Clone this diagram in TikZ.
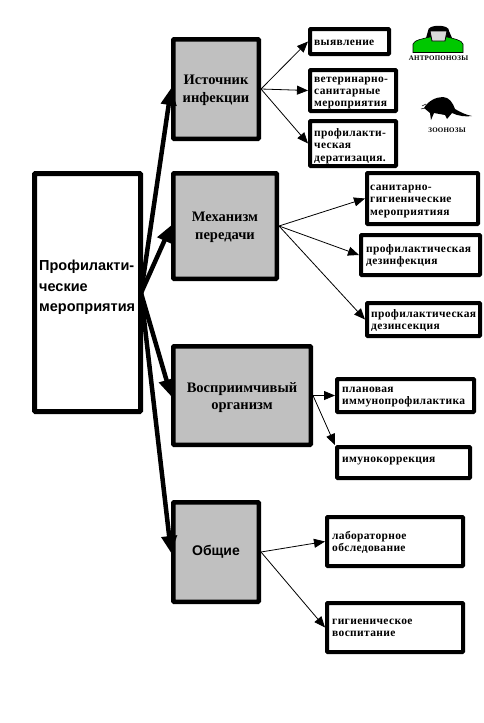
\documentclass[tikz,border=0pt]{standalone}
\usepackage{fontspec}
\setmainfont{Liberation Serif}
\newfontfamily\sansb{Liberation Sans}
\newfontfamily\spaced{Liberation Serif}[LetterSpace=3]
\usetikzlibrary{arrows.meta}
\definecolor{boxgrey}{RGB}{192,192,192}
\definecolor{shirt}{RGB}{0,200,0}
\tikzset{
 box/.style={draw=black,line width=#1,rounded corners=0.8pt,inner sep=0pt,anchor=north west},
 mainbx/.style={box=5pt,fill=white},
 greybx/.style={box=4.5pt,fill=boxgrey},
 smallbx/.style={box=4pt,fill=white},
 lbl/.style={font=\fontsize{14.5}{17.5}\selectfont\bfseries,align=center,inner sep=0pt},
 slbl/.style={font=\spaced\fontsize{11.5}{12.3}\selectfont\bfseries,align=left,inner sep=0pt,anchor=north west},
 thickarr/.style={line width=4.5pt,-{Triangle[length=17pt,width=15pt]},shorten >=-1pt},
 thinarr/.style={line width=0.8pt,-{Triangle[length=11pt,width=9pt]}},
 capt/.style={font=\spaced\fontsize{7}{8}\selectfont\bfseries,inner sep=0pt}
}
\begin{document}
\begin{tikzpicture}[x=1pt,y=-1pt]
\useasboundingbox (0,0) rectangle (483,723);
% main and grey boxes
\node[mainbx,minimum width=106pt,minimum height=238pt] (mainbox) at (32,171) {};
\node[greybx,minimum width=85.5pt,minimum height=99.5pt] (ist) at (171,37) {};
\node[greybx,minimum width=103.5pt,minimum height=105.5pt] (mech) at (171,171) {};
\node[greybx,minimum width=137.5pt,minimum height=98.5pt] (vos) at (171,344) {};
\node[greybx,minimum width=85.5pt,minimum height=99.5pt] (obs) at (171,500) {};
% small boxes
\node[smallbx,minimum width=79pt,minimum height=25pt] (vyv) at (308,27) {};
\node[smallbx,minimum width=86pt,minimum height=41pt] (vet) at (308,68) {};
\node[smallbx,minimum width=86pt,minimum height=45pt] (der) at (308,119) {};
\node[smallbx,minimum width=111pt,minimum height=51pt] (san) at (365,171) {};
\node[smallbx,minimum width=119pt,minimum height=40pt] (dezf) at (359,233) {};
\node[smallbx,minimum width=113pt,minimum height=33pt] (dezs) at (365,301) {};
\node[smallbx,minimum width=137pt,minimum height=33pt] (plan) at (335,377) {};
\node[smallbx,minimum width=133pt,minimum height=31pt] (imm) at (335,445) {};
\node[smallbx,minimum width=136pt,minimum height=49pt] (lab) at (325,515) {};
\node[smallbx,minimum width=136pt,minimum height=49pt] (gig) at (325,601) {};
% connectors
\coordinate (hub) at (141,293);
\draw[thickarr] (hub) -- (ist.west);
\draw[thickarr] (hub) -- (mech.west);
\draw[thickarr] (hub) -- (vos.west);
\draw[thickarr] (hub) -- (obs.west);
\draw[thinarr] (ist.east) -- (vyv.west);
\draw[thinarr] (ist.east) -- (vet.west);
\draw[thinarr] (ist.east) -- (der.west);
\draw[thinarr] (mech.east) -- (san.west);
\draw[thinarr] (mech.east) -- (dezf.west);
\draw[thinarr] (mech.east) -- (dezs.west);
\draw[thinarr] (vos.east) -- (plan.west);
\draw[thinarr] (vos.east) -- (imm.north west);
\draw[thinarr] (obs.east) -- (lab.west);
\draw[thinarr] (obs.east) -- (gig.west);
% main labels
\node[font=\sansb\fontsize{14.5}{20.5}\selectfont\bfseries,align=left,inner sep=0pt,anchor=north west] (tmain) at (39,260) {Профилакти-\\ческие\\мероприятия};
\node[lbl] (t1) at (216,90.5) {Источник\\инфекции};
\node[lbl] (t2) at (225,227.5) {Механизм\\передачи};
\node[lbl] (t3) at (242,397.5) {Восприимчивый\\организм};
\node[font=\sansb\fontsize{14}{16}\selectfont\bfseries,inner sep=0pt] (t4) at (216,552) {Общие};
% small labels
\node[slbl] (s1) at (314,40) {выявление};
\node[slbl] (s2) at (314,76.5) {ветеринарно-\\санитарные\\мероприятия};
\node[slbl] (s3) at (314,128.5) {профилакти-\\ческая\\дератизация.};
\node[slbl] (s4) at (370,185) {санитарно-\\гигиенические\\мероприятияя};
\node[slbl] (s5) at (366,244) {профилактическая\\дезинфекция};
\node[slbl] (s6) at (371,309) {профилактическая\\дезинсекция};
\node[slbl] (s7) at (342,387) {плановая\\иммунопрофилактика};
\node[slbl] (s8) at (342,456.5) {имунокоррекция};
\node[slbl] (s9) at (332,531) {лабораторное\\обследование};
\node[slbl] (s10) at (332,619) {гигиеническое\\воспитание};
% captions
\node[capt] (c1) at (438.5,58) {АНТРОПОНОЗЫ};
\node[capt] (c2) at (447,130) {ЗООНОЗЫ};
% person icon
\fill[black] (428,31) .. controls (427,24) and (450,24) .. (449,31) -- (452,38) -- (426,38) -- cycle;
\draw[black,fill=shirt,line width=0.6pt] (413,52.5) -- (413,44) .. controls (414,40) and (424,38.5) .. (430,37) -- (447,37) .. controls (453,38.5) and (462,40) .. (463,44) -- (463,52.5) -- cycle;
\draw[black,fill=boxgrey!60!white,line width=0.8pt] (430,31) -- (447,31) -- (445,41) -- (432,41) -- cycle;
% rat icon
\fill[black] (424,108) .. controls (428,101) and (436,97) .. (443,97)
 .. controls (449,97) and (453,103) .. (455,109)
 .. controls (460,112) and (466,115) .. (472,116)
 .. controls (466,117) and (458,116) .. (452,113)
 -- (447,119) -- (445,115) -- (434,113) -- (431,120) -- (430,113)
 .. controls (428,111) and (426,110) .. (424,108) -- cycle;
\draw[black,line width=0.5pt] (426,104) -- (422,106) (425,108) -- (421,109);
\end{tikzpicture}
\end{document}
